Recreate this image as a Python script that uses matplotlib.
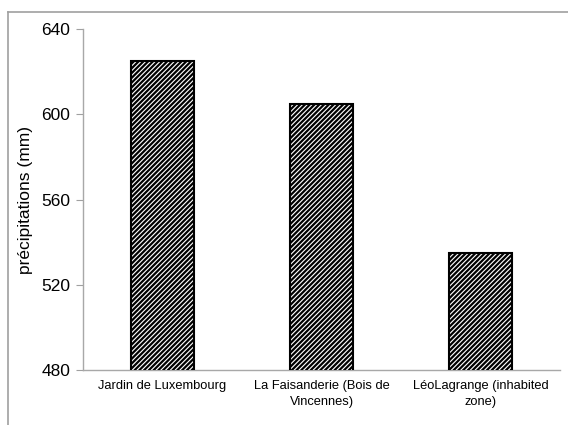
import matplotlib
matplotlib.use("Agg")
import matplotlib.pyplot as plt
from matplotlib.lines import Line2D

categories = ["Jardin de Luxembourg", "La Faisanderie (Bois de\nVincennes)", "LéoLagrange (inhabited\nzone)"]
values = [625, 605, 535]
yticks = [480, 520, 560, 600, 640]

plt.rcParams['font.family'] = ['Liberation Sans', 'DejaVu Sans']
plt.rcParams['hatch.linewidth'] = 1.6
plt.rcParams['hatch.color'] = 'black'

fig = plt.figure(figsize=(5.68, 4.25), dpi=100)
ax = fig.add_axes([83/568, 1-370/425, 477/568, 341/425])

x = range(len(categories))
ax.bar(x, values, width=0.4, color='white', edgecolor='black', linewidth=1.5,
       hatch='///////', zorder=3)

ax.set_xlim(-0.5, len(categories) - 0.5)
ax.set_ylim(480, 640)
ax.set_yticks(yticks)
ax.set_yticklabels([str(t) for t in yticks], fontsize=12.5)
ax.set_xticks(list(x))
ax.set_xticklabels(categories, fontsize=9.3, linespacing=1.45)
ax.tick_params(axis='x', length=0, pad=7)
ax.tick_params(axis='y', length=5, color='#a0a0a0', pad=4)
ax.set_ylabel('précipitations (mm)', fontsize=12.5, labelpad=6)

for s in ['top', 'right']:
    ax.spines[s].set_visible(False)
for s in ['left', 'bottom']:
    ax.spines[s].set_color('#a8a8a8')
    ax.spines[s].set_linewidth(1)

# outer chart border (top and left)
fig.add_artist(Line2D([8/568, 1], [1-12/425, 1-12/425], color='#a0a0a0', lw=1.2, transform=fig.transFigure))
fig.add_artist(Line2D([8/568, 8/568], [0, 1-12/425], color='#a0a0a0', lw=1.2, transform=fig.transFigure))

fig.savefig('out.png', dpi=100)
